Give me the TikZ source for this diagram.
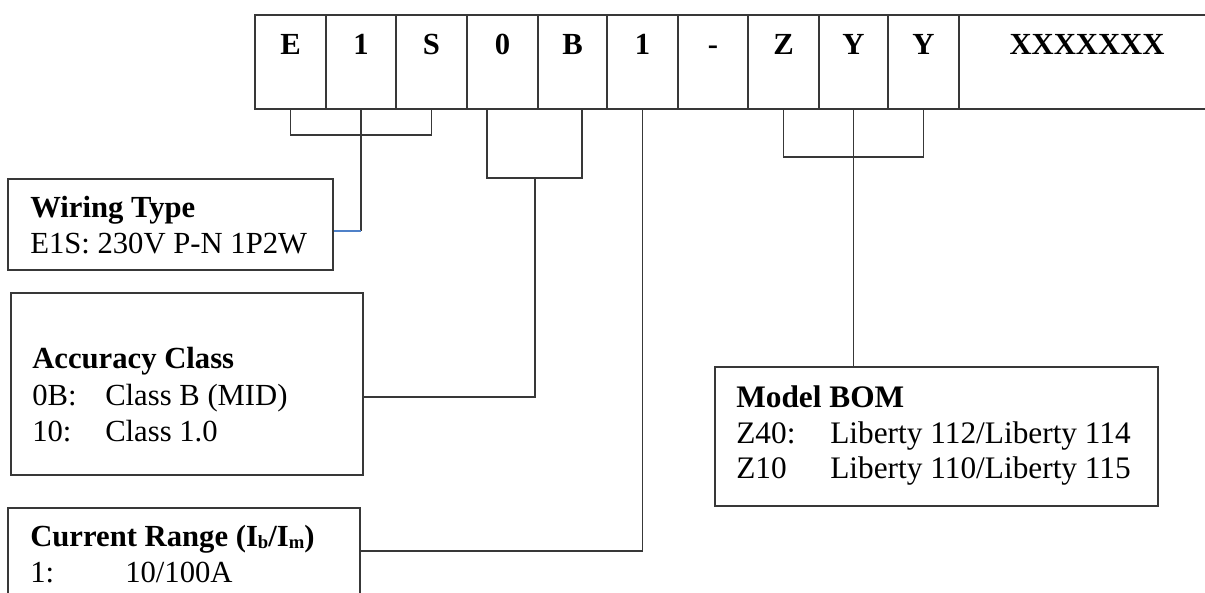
\documentclass[tikz,border=0pt]{standalone}
\usepackage{fontspec}
\setmainfont{Liberation Serif}
\usetikzlibrary{calc}
\definecolor{lncol}{HTML}{383838}
\definecolor{bluecol}{HTML}{4F81C8}
\newcommand\lowsub[1]{\raisebox{-0.08em}{\fontsize{14pt}{14pt}\selectfont\bfseries #1}}
\begin{document}
\begin{tikzpicture}[x=0.75pt,y=-0.75pt,
  conn/.style={draw=lncol, line width=1.2pt},
  blueconn/.style={draw=bluecol, line width=0.9pt},
  cell/.style={conn, rectangle, inner sep=0pt, minimum height=94*0.75pt},
  celltxt/.style={anchor=base, inner sep=0pt, font=\fontsize{23pt}{27pt}\selectfont\bfseries},
  box/.style={conn, rectangle, inner sep=0pt},
  txt/.style={anchor=base west, inner sep=0pt, font=\fontsize{23pt}{27pt}\selectfont},
  btxt/.style={anchor=base west, inner sep=0pt, font=\fontsize{23pt}{27pt}\selectfont\bfseries},
  bomtxt/.style={anchor=base west, inner sep=0pt, font=\fontsize{23.5pt}{27pt}\selectfont},
]
\useasboundingbox (0,0) rectangle (1205,592);
\clip (0,0) rectangle (1205,592);

% code cells
\foreach \n/\cx/\w/\t in {c1/290.5/71/E, c2/361/70/1, c3/431.5/71/S, c4/502.5/71/0,
  c5/572.5/69/B, c6/642.5/71/1, c7/713/70/-, c8/783.5/71/Z, c9/853.5/69/Y,
  c10/923.5/71/Y, c11/1087/256/XXXXXXX}{
  \node[cell, minimum width=\w*0.75pt] (\n) at (\cx,62) {};
  \node[celltxt] (t\n) at (\cx,55) {\t};
}

% description boxes
\node[box, minimum width=325*0.75pt, minimum height=91*0.75pt] (wiring) at (170.5,224.5) {};
\node[box, minimum width=352*0.75pt, minimum height=182*0.75pt] (accuracy) at (187,384) {};
\node[box, minimum width=352*0.75pt, minimum height=86*0.75pt] (current) at (184,551) {};
\node[box, minimum width=443*0.75pt, minimum height=139*0.75pt] (bom) at (936.5,436.5) {};

% texts
\node[btxt] (wt) at (30,217) {Wiring Type};
\node[txt] (wv) at (30,253) {E1S: 230V P-N 1P2W};

\node[btxt] (at) at (32,368) {Accuracy Class};
\node[txt] (a1k) at (32,405) {0B:};
\node[txt] (a1v) at (105,405) {Class B (MID)};
\node[txt] (a2k) at (32,441) {10:};
\node[txt] (a2v) at (105,441) {Class 1.0};

\node[btxt] (ct) at (30,546) {Current Range (I\lowsub{b}/I\lowsub{m})};
\node[txt] (c1k) at (30,582) {1:};
\node[txt] (c1v) at (125,582) {10/100A};

\node[btxt, font=\fontsize{23.5pt}{27pt}\selectfont\bfseries] (bt) at (736,407) {Model BOM};
\node[bomtxt] (b1k) at (736,443) {Z40:};
\node[bomtxt] (b1v) at (830,443) {Liberty 112/Liberty 114};
\node[bomtxt] (b2k) at (736,478) {Z10};
\node[bomtxt] (b2v) at (830,478) {Liberty 110/Liberty 115};

% connectors
\coordinate (wj) at (361,231);
\draw[conn] (c1.south) -- ++(0,25) -| (c3.south);
\draw[conn] (c2.south) -- (wj);
\draw[blueconn] (wiring.east |- wj) -- (wj);

\coordinate (b0) at (487,109);
\coordinate (bB) at (582,109);
\coordinate (bm) at (535,178);
\coordinate (aj) at (535,397);
\draw[conn] (b0) -- ++(0,69) -| (bB);
\draw[conn] (bm) -- (aj) -- (accuracy.east |- aj);

\draw[conn] (c6.south) |- (current.east);

\draw[conn] (c8.south) -- ++(0,47) -| (c10.south);
\draw[conn] (c9.south) -- (c9.south |- bom.north);
\end{tikzpicture}
\end{document}
